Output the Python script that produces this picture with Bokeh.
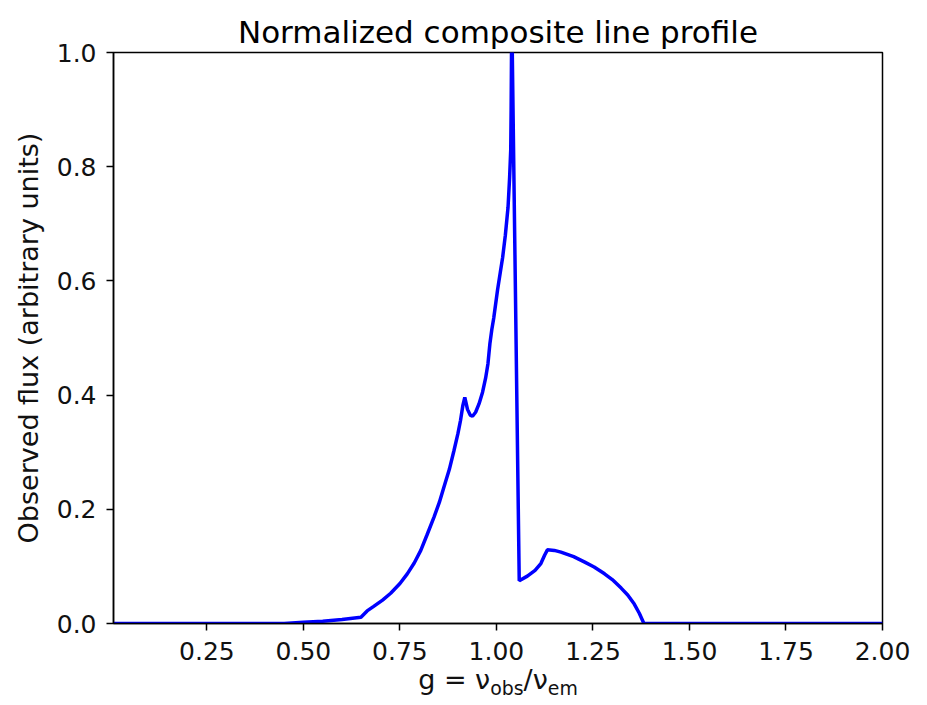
from bokeh.plotting import figure
from bokeh.models import Range1d, FixedTicker, NumeralTickFormatter, Div
from bokeh.layouts import column
from bokeh.embed import file_html
from bokeh.resources import INLINE

# g = nu_obs / nu_em
g_vals = [0.008, 0.45, 0.50, 0.55, 0.60, 0.649, 0.665, 0.682, 0.705, 0.726,
          0.750, 0.769, 0.787, 0.804, 0.820, 0.838, 0.852, 0.864, 0.878, 0.890,
          0.900, 0.907, 0.913, 0.918, 0.925, 0.932, 0.938, 0.946, 0.955, 0.964,
          0.972, 0.978, 0.983, 0.988, 0.993, 1.003, 1.010, 1.016, 1.023, 1.030,
          1.034, 1.037, 1.038, 1.039, 1.041, 1.059, 1.080, 1.100, 1.115, 1.125,
          1.132, 1.150, 1.167, 1.200, 1.230, 1.253, 1.280, 1.300, 1.323, 1.340,
          1.357, 1.370, 1.382, 2.000]
# normalized observed flux
flux_vals = [0.0, 0.0, 0.002, 0.004, 0.007, 0.011, 0.022, 0.030, 0.041, 0.053,
             0.070, 0.087, 0.106, 0.128, 0.155, 0.186, 0.212, 0.239, 0.270, 0.303,
             0.332, 0.356, 0.382, 0.396, 0.375, 0.365, 0.363, 0.370, 0.385, 0.405,
             0.430, 0.455, 0.490, 0.515, 0.535, 0.585, 0.615, 0.641, 0.680, 0.729,
             0.780, 0.830, 0.900, 1.000, 1.000, 0.075, 0.083, 0.093, 0.105, 0.120,
             0.129, 0.128, 0.125, 0.117, 0.107, 0.099, 0.087, 0.077, 0.062, 0.050,
             0.034, 0.018, 0.0, 0.0]

x_ticks = [0.25, 0.50, 0.75, 1.00, 1.25, 1.50, 1.75, 2.00]
y_ticks = [0.0, 0.2, 0.4, 0.6, 0.8, 1.0]

FONT = "DejaVu Sans"

p = figure(width=920, height=670, output_backend="svg", toolbar_location=None,
           x_range=Range1d(0.008, 2.0), y_range=Range1d(0.0, 1.0),
           min_border_left=113, min_border_right=38, min_border_top=52,
           min_border_bottom=47, title="Normalized composite line profile")

p.line(g_vals, flux_vals, line_color="#0000ff", line_width=3.5)

p.title.align = "center"
p.title.text_font = FONT
p.title.text_font_size = "31px"
p.title.text_font_style = "normal"
p.title.text_color = "black"
p.title.standoff = 5

p.xgrid.visible = False
p.ygrid.visible = False
p.outline_line_color = "black"
p.outline_line_width = 1.5
p.outline_line_alpha = 1.0

p.xaxis.ticker = FixedTicker(ticks=x_ticks)
p.yaxis.ticker = FixedTicker(ticks=y_ticks)
p.xaxis.formatter = NumeralTickFormatter(format="0.00")
p.yaxis.formatter = NumeralTickFormatter(format="0.0")
for ax in (p.xaxis[0], p.yaxis[0]):
    ax.axis_line_color = "black"
    ax.axis_line_width = 1.5
    ax.major_tick_line_color = "black"
    ax.major_tick_line_width = 1.5
    ax.major_tick_out = 7
    ax.major_tick_in = 0
    ax.minor_tick_line_color = None
    ax.major_label_text_font = FONT
    ax.major_label_text_font_size = "25px"
    ax.major_label_text_color = "#111111"
p.xaxis.major_label_standoff = 11
p.yaxis.major_label_standoff = 10

p.yaxis.axis_label = "Observed flux (arbitrary units)"
p.yaxis.axis_label_text_font = FONT
p.yaxis.axis_label_text_font_size = "27px"
p.yaxis.axis_label_text_font_style = "normal"
p.yaxis.axis_label_text_color = "#111111"
p.yaxis.axis_label_standoff = 10

xlabel = Div(text="g = &nu;<sub style='font-size:0.7em'>obs</sub>/&nu;<sub style='font-size:0.7em'>em</sub>",
             width=300, height=33, margin=(0, 0, 0, 348),
             styles={"font-family": FONT, "font-size": "27px", "text-align": "center",
                     "line-height": "20px", "color": "#111111"})

layout = column(p, xlabel, spacing=0)
open("out.html", "w").write(file_html(layout, INLINE))
